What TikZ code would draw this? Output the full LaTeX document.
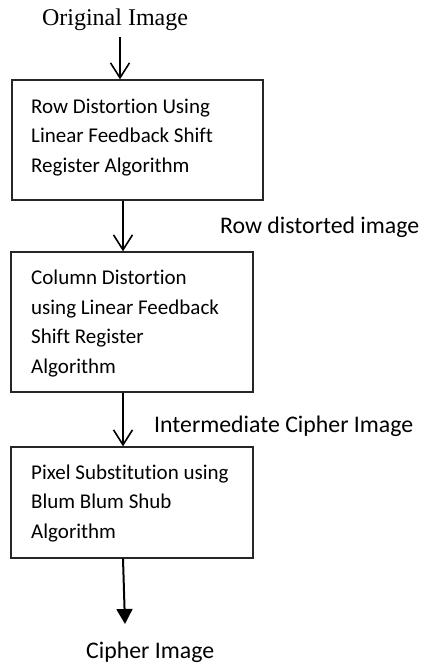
\documentclass[tikz,border=0pt]{standalone}
\usepackage{fontspec}
\setmainfont[Ligatures=NoCommon]{Carlito}
\newfontfamily\serifface{Liberation Serif}
\usetikzlibrary{arrows.meta}
\begin{document}
\begin{tikzpicture}[x=1pt,y=-1pt,
  boxshape/.style={draw=black!85,line width=1.3pt,inner sep=0pt},
  boxtext/.style={inner sep=0pt,align=left,anchor=base west,font=\fontsize{21}{29.5}\selectfont},
  lbl/.style={inner sep=0pt,anchor=base west,font=\fontsize{23.8}{28}\selectfont},
  openarr/.style={line width=1.8pt,-{Straight Barb[length=15pt,width=19pt,line width=1.6pt]}},
  fillarr/.style={line width=2pt,-{Triangle[length=15pt,width=16pt]}}]
\useasboundingbox (0,0) rectangle (421,666);
% boxes
\node[boxshape,minimum width=251pt,minimum height=120pt] (b1) at (137.5,140) {};
\node[boxshape,minimum width=242pt,minimum height=140pt] (b2) at (132,322) {};
\node[boxshape,minimum width=242pt,minimum height=111pt] (b3) at (132,502.5) {};
% box texts (anchor = baseline of last line)
\node[boxtext] (t1) at (31,172) {Row Distortion Using\\Linear Feedback Shift\\Register Algorithm};
\node[boxtext] (t2) at (31,373) {Column Distortion\\using Linear Feedback\\Shift Register\\Algorithm};
\node[boxtext] (t3) at (31,538) {Pixel Substitution using\\Blum Blum Shub\\Algorithm};
% labels
\node[inner sep=0pt,anchor=base,font=\serifface\fontsize{24}{28}\selectfont] (orig) at (115,26) {Original Image};
\node[lbl] (l1) at (220,233) {Row distorted image};
\node[lbl] (l2) at (154,432) {Intermediate Cipher Image};
\node[lbl] (l3) at (86,658) {Cipher Image};
% arrow coordinates
\coordinate (a1s) at (120,35);
\coordinate (a1e) at (120,80);
\coordinate (a2s) at (123,197);
\coordinate (a2e) at (123,251);
\coordinate (a3s) at (123,392);
\coordinate (a3e) at (123,447);
\coordinate (a4s) at (123,556);
\coordinate (a4e) at (125,624);
\draw[openarr] (orig.south -| a1s) ++(0,6) -- (b1.north -| a1e);
\draw[openarr] (b1.south -| a2s) -- (b2.north -| a2e);
\draw[openarr] (b2.south -| a3s) -- (b3.north -| a3e);
\draw[fillarr] (b3.south -| a4s) -- (a4e);
\end{tikzpicture}
\end{document}
